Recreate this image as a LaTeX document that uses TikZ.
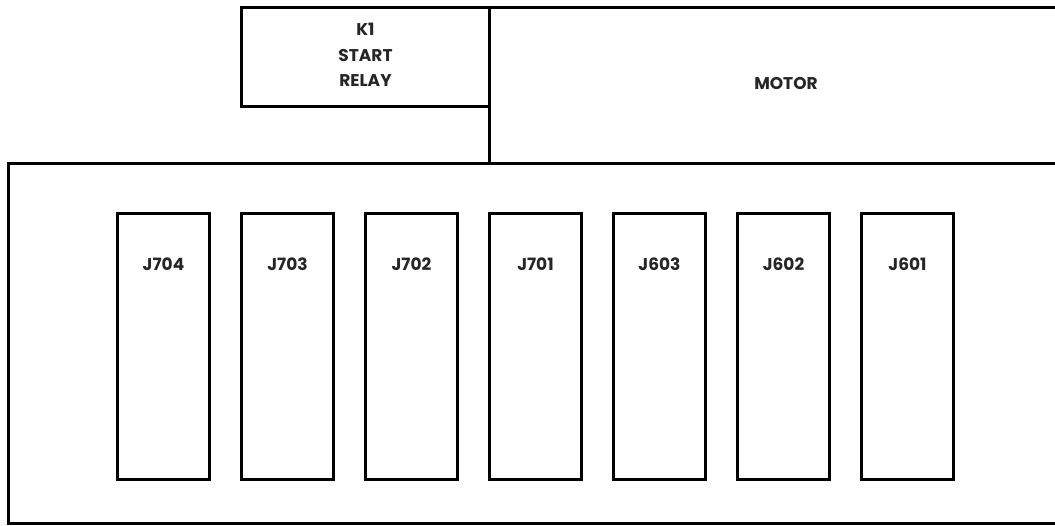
\documentclass[tikz,border=0pt]{standalone}
\usepackage{fontspec}
\setmainfont{Poppins}
\begin{document}
\begin{tikzpicture}[x=1pt,y=-1pt,
  box/.style={draw=black,line width=3pt,inner sep=0pt,fill=none},
  lbl/.style={font=\fontsize{17}{25.5}\selectfont\bfseries,align=center,inner sep=0pt,text=black!85},
  jbox/.style={box,minimum width=92pt,minimum height=266pt}]
\useasboundingbox (0,0) rectangle (1055,525);
\clip (0,0) rectangle (1055,525);
% enclosures
\node[box,minimum width=248pt,minimum height=99pt,anchor=north west] (k1) at (240,6) {};
\node[box,minimum width=600pt,minimum height=156pt,anchor=north west] (motor) at (488,6) {};
\node[box,minimum width=1080pt,minimum height=360pt,anchor=north west] (panel) at (7,162) {};
\node[lbl] (k1t) at ([yshift=2pt]k1.center) {K1\\START\\RELAY};
\node[lbl] (motort) at (786,84) {MOTOR};
% connectors
\foreach \n/\x in {J704/116,J703/240,J702/364,J701/488,J603/612,J602/736,J601/860}{
  \node[jbox,anchor=north west] (\n) at (\x,212) {};
  \node[lbl] (\n t) at ([yshift=-52pt]\n.north) {\n};
}
\end{tikzpicture}
\end{document}
